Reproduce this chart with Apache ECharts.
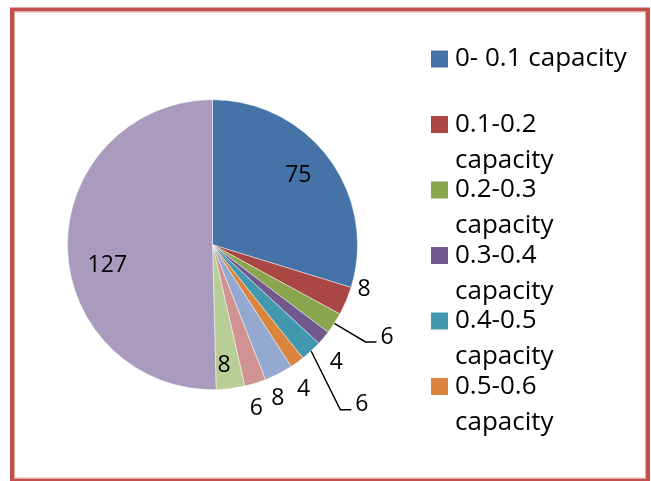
<!DOCTYPE html>
<html>
<head>
<meta charset="utf-8">
<script src="https://cdn.jsdelivr.net/npm/echarts@6/dist/echarts.min.js"></script>
<style>
  html, body { margin: 0; padding: 0; background: #ffffff; }
  #chart { width: 651px; height: 481px; }
</style>
</head>
<body>
<div id="chart"></div>
<script>
// Share of units by capacity band
const categories = [
  '0- 0.1 capacity', '0.1-0.2 capacity', '0.2-0.3 capacity', '0.3-0.4 capacity',
  '0.4-0.5 capacity', '0.5-0.6 capacity', '0.6-0.7 capacity', '0.7-0.8 capacity',
  '0.8-0.9 capacity', '0.9-1.0 capacity'
];
const counts = [75, 8, 6, 4, 6, 4, 8, 6, 8, 127];
// the legend box only has room for the first six bands
const legendNames = categories.slice(0, 6);

const palette = [
  '#4572A7', '#AA4643', '#89A54E', '#71588F', '#4198AF',
  '#DB843D', '#93A9CF', '#D19392', '#B9CD96', '#A99BBD'
];

// pie geometry
const CX = 212.5, CY = 244.7, R = 145;

// label placement per slice: distance from centre (in radii) and a small
// angular nudge (degrees) from the slice middle; "line" adds a leader line
const labelSpots = [
  { r: 0.76, da: -2.4 },
  { r: 1.09, da: -6.3 },
  { r: 1.25, da: -0.4, line: true },
  { r: 1.18, da: 3.6 },
  { r: 1.44, da: 5.1, line: true },
  { r: 1.18, da: 3.6 },
  { r: 1.15, da: 4.1 },
  { r: 1.17, da: 2.2 },
  { r: 0.84, da: 1.7 },
  { r: 0.74, da: -10.7 }
];

const total = counts.reduce((a, b) => a + b, 0);
const midAngles = [];
let acc = 0;
counts.forEach(v => { midAngles.push((acc + v / 2) / total * 360); acc += v; });

function polar(angleDeg, dist) {
  const a = angleDeg * Math.PI / 180;
  return [CX + dist * Math.sin(a), CY - dist * Math.cos(a)];
}

const pieData = categories.map((name, i) => ({
  name: name,
  value: counts[i],
  itemStyle: { color: palette[i] },
  labelLine: { show: !!labelSpots[i].line, lineStyle: { color: '#000000', width: 1.5 } }
}));

const legendFont = { fontFamily: 'Open Sans', fontSize: 26, lineHeight: 36, color: '#000000', padding: [0, 0, 0, 2] };
const legends = legendNames.map((name, i) => {
  const iconMid = 59 + 65.5 * i;
  const twoLine = i > 0;
  return {
    data: [name],
    orient: 'vertical',
    left: 431,
    top: twoLine ? iconMid - 54 : iconMid - 18,
    padding: 0,
    icon: 'rect',
    itemWidth: 17,
    itemHeight: 17,
    selectedMode: false,
    itemStyle: { borderWidth: 0 },
    textStyle: legendFont,
    // blank first line keeps the swatch beside the first text line
    formatter: twoLine ? '\n' + name.replace(' capacity', '\ncapacity') : name
  };
});

const chart = echarts.init(document.getElementById('chart'), null, { renderer: 'canvas' });
chart.setOption({
  backgroundColor: '#ffffff',
  animation: false,
  legend: legends,
  graphic: [
    {
      type: 'rect',
      shape: { x: 12, y: 9.5, width: 636, height: 471 },
      style: { fill: 'none', stroke: '#C4504E', lineWidth: 4 },
      silent: true
    },
    {
      type: 'rect',
      shape: { x: 14.5, y: 12, width: 631, height: 466 },
      style: { fill: 'none', stroke: '#E3A9A7', lineWidth: 1 },
      silent: true
    }
  ],
  series: [{
    type: 'pie',
    center: [CX, CY],
    radius: R,
    startAngle: 90,
    clockwise: true,
    avoidLabelOverlap: false,
    minShowLabelAngle: 0,
    emphasis: { disabled: true },
    itemStyle: { borderColor: 'rgba(255,255,255,0.55)', borderWidth: 0.8 },
    label: {
      show: true,
      position: 'outside',
      formatter: '{c}',
      color: '#000000',
      fontFamily: 'Open Sans',
      fontSize: 23
    },
    labelLine: {
      show: false,
      lineStyle: { color: '#000000', width: 1.5 }
    },
    labelLayout: function (params) {
      const i = params.dataIndex;
      const s = labelSpots[i];
      const ang = midAngles[i] + s.da;
      if (s.line) {
        const edge = polar(midAngles[i], R);
        const elbow = polar(ang, s.r * R);
        const end = [elbow[0] + 11, elbow[1]];
        return {
          x: end[0] + 4, y: elbow[1] - 5,
          align: 'left', verticalAlign: 'middle',
          labelLinePoints: [edge, elbow, end],
          hideOverlap: false, moveOverlap: null
        };
      }
      const p = polar(ang, s.r * R);
      return { x: p[0], y: p[1], align: 'center', verticalAlign: 'middle', hideOverlap: false };
    },
    data: pieData
  }]
});
</script>
</body>
</html>
